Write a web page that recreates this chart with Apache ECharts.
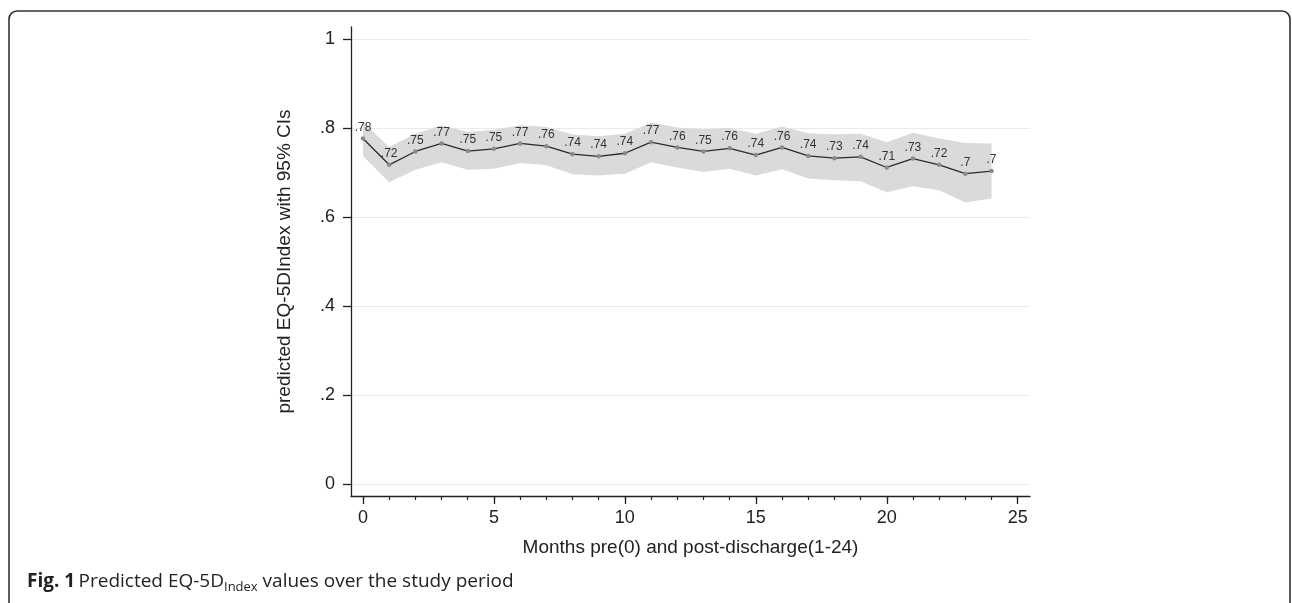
<!DOCTYPE html>
<html>
<head>
<meta charset="utf-8">
<script src="https://cdn.jsdelivr.net/npm/echarts@6/dist/echarts.min.js"></script>
<style>
html,body{margin:0;padding:0;background:#fff;}
#chart{width:1292px;height:603px;}
</style>
</head>
<body>
<div id="chart"></div>
<script>
// ---- data ----
var months = [0,1,2,3,4,5,6,7,8,9,10,11,12,13,14,15,16,17,18,19,20,21,22,23,24];
var predicted = [0.777,0.718,0.748,0.766,0.749,0.754,0.766,0.760,0.742,0.737,0.744,0.769,0.757,0.748,0.755,0.740,0.757,0.738,0.733,0.736,0.712,0.732,0.718,0.698,0.704];
var upperCI = [0.814,0.758,0.788,0.807,0.792,0.797,0.807,0.803,0.786,0.782,0.788,0.813,0.802,0.798,0.801,0.788,0.804,0.789,0.787,0.788,0.769,0.790,0.777,0.767,0.766];
var lowerCI = [0.738,0.679,0.707,0.724,0.707,0.709,0.722,0.717,0.697,0.694,0.698,0.724,0.712,0.702,0.709,0.694,0.708,0.687,0.683,0.681,0.656,0.670,0.661,0.633,0.642];
var xMajorTicks = [0,5,10,15,20,25];
var xMinorTicks = [0,1,2,3,4,5,6,7,8,9,10,11,12,13,14,15,16,17,18,19,20,21,22,23,24,25];
var yTicks = [0,0.2,0.4,0.6,0.8,1];
var yTickLabels = ['0','.2','.4','.6','.8','1'];

function stataFmt(v){
  var s = String(Math.round(v*100)/100);
  return s.replace(/^0\./,'.');
}

var chart = echarts.init(document.getElementById('chart'));
var FONT = '"Liberation Sans", Arial, sans-serif';
var AX = '#222';

var option = {
  animation:false,
  backgroundColor:'#fff',
  grid:{left:351,right:262,top:27,bottom:107,containLabel:false},
  xAxis:[{
    type:'value', min:-0.458, max:25.47,
    name:'Months pre(0) and post-discharge(1-24)',
    nameLocation:'middle', nameGap:42,
    nameTextStyle:{fontFamily:FONT,fontSize:19,color:AX},
    axisLine:{show:true,onZero:false,lineStyle:{color:'#222',width:1.3}},
    axisTick:{show:true,length:8,customValues:xMajorTicks,lineStyle:{color:'#222',width:1.3}},
    axisLabel:{customValues:xMajorTicks,margin:13,fontFamily:FONT,fontSize:18,color:AX},
    splitLine:{show:false}
  },{
    type:'value', min:-0.458, max:25.47, position:'bottom',
    axisLine:{show:false,onZero:false},
    axisTick:{show:true,length:4,customValues:xMinorTicks,lineStyle:{color:'#222',width:1.2}},
    axisLabel:{show:false},
    splitLine:{show:false}
  }],
  yAxis:{
    type:'value', min:-0.027, max:1.028,
    name:'predicted EQ-5DIndex with 95% CIs',
    nameLocation:'middle', nameGap:57, nameRotate:90,
    nameTextStyle:{fontFamily:FONT,fontSize:19,color:AX},
    axisLine:{show:true,onZero:false,lineStyle:{color:'#222',width:1.3}},
    axisTick:{show:true,length:8,customValues:yTicks,lineStyle:{color:'#222',width:1.3}},
    axisLabel:{customValues:yTicks,margin:16,fontFamily:FONT,fontSize:18,color:AX,
      formatter:function(v){var i=yTicks.findIndex(function(t){return Math.abs(t-v)<1e-6;});return i>=0?yTickLabels[i]:'';}},
    splitLine:{show:true,lineStyle:{color:'#eaeaea',width:1.2}}
  },
  series:[{
    type:'custom',
    xAxisIndex:0,
    silent:true,
    data:[[months[0],predicted[0]]],
    renderItem:function(params,api){
      var pts=[];
      for(var i=0;i<months.length;i++){pts.push(api.coord([months[i],upperCI[i]]));}
      for(var j=months.length-1;j>=0;j--){pts.push(api.coord([months[j],lowerCI[j]]));}
      return {type:'polygon',shape:{points:pts},style:{fill:'#d9dadc',stroke:null}};
    },
    z:1
  },{
    type:'line',
    xAxisIndex:0,
    data:months.map(function(m,i){return [m,predicted[i]];}),
    symbol:'circle', symbolSize:4.5,
    itemStyle:{color:'#8a8a8a'},
    lineStyle:{color:'#2b2b2b',width:1.3},
    label:{show:true,position:'top',distance:3,fontFamily:FONT,fontSize:12,color:'#333',
      formatter:function(p){return stataFmt(p.value[1]);}},
    z:3
  }],
  graphic:[{
    type:'rect',
    shape:{x:9,y:11,width:1281,height:700,r:8},
    style:{fill:null,stroke:'#333',lineWidth:1.6},
    silent:true
  },{
    type:'text',
    left:27, top:572,
    style:{
      text:'{b|Fig. 1} {n|Predicted EQ-5D}{s|Index}{n| values over the study period}',
      rich:{
        b:{fontFamily:'"Open Sans", sans-serif',fontWeight:'bold',fontSize:19,lineHeight:24,fill:'#222'},
        n:{fontFamily:'"Open Sans", sans-serif',fontSize:19,lineHeight:24,fill:'#222'},
        s:{fontFamily:'"Open Sans", sans-serif',fontSize:13,lineHeight:12,verticalAlign:'bottom',fill:'#222'}
      }
    }
  }]
};
chart.setOption(option);
</script>
</body>
</html>
